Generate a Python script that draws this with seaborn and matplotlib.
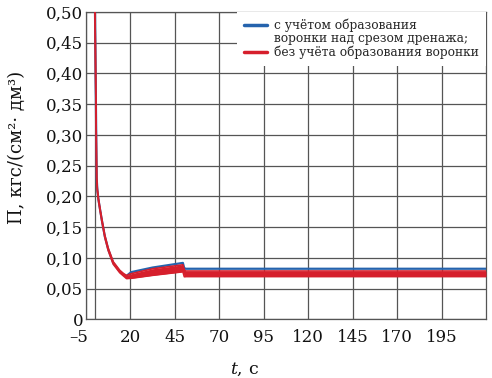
import matplotlib
matplotlib.use("Agg")
import matplotlib.pyplot as plt
from matplotlib.lines import Line2D
import matplotlib.transforms as mtransforms
import seaborn as sns
import numpy as np

# ---- data ----
t_s = [0.0, 0.4, 1.0, 1.4, 2.0, 3.0, 4.0, 5.6, 7.5, 10.3, 14.0, 16.0, 17.8,
       20.4, 32.5, 48.4, 49.5, 50.3, 51.0, 52.0, 220.0]
blue_vals = [0.52, 0.40, 0.23, 0.21, 0.195, 0.177, 0.160, 0.135, 0.114, 0.092,
             0.078, 0.073, 0.071, 0.077, 0.0845, 0.0915, 0.0920, 0.0830,
             0.0825, 0.0825, 0.0825]
red_hi = [0.52, 0.40, 0.23, 0.212, 0.197, 0.179, 0.162, 0.137, 0.116, 0.094,
          0.080, 0.075, 0.0715, 0.0745, 0.0825, 0.0885, 0.0890, 0.0810,
          0.0788, 0.0788, 0.0788]
red_lo = [0.52, 0.40, 0.228, 0.208, 0.193, 0.175, 0.158, 0.133, 0.112, 0.090,
          0.076, 0.071, 0.0665, 0.0670, 0.0718, 0.0772, 0.0778, 0.0695,
          0.0698, 0.0698, 0.0698]

x_ticks = [-5, 20, 45, 70, 95, 120, 145, 170, 195]
x_labels = ["–5", "20", "45", "70", "95", "120", "145", "170", "195"]
y_ticks = [0, 0.05, 0.10, 0.15, 0.20, 0.25, 0.30, 0.35, 0.40, 0.45, 0.50]
y_labels = ["0", "0,05", "0,10", "0,15", "0,20", "0,25", "0,30", "0,35",
            "0,40", "0,45", "0,50"]

legend_labels = ["с учётом образования", "воронки над срезом дренажа;",
                 "без учёта образования воронки"]

BLUE = "#2563ad"
RED = "#d61f2c"
GRID = "#555555"

sns.set_theme(style="white")
plt.rcParams["font.family"] = ["DejaVu Serif"]
plt.rcParams["mathtext.fontset"] = "dejavuserif"

fig = plt.figure(figsize=(4.92, 3.78), dpi=100)
ax = fig.add_axes([0.1748, 0.1548, 0.8130, 0.8135])

ax.set_xlim(-5, 220)
ax.set_ylim(0, 0.5)

sns.lineplot(x=t_s, y=blue_vals, ax=ax, color=BLUE, lw=1.6, estimator=None,
             zorder=3)
sns.lineplot(x=t_s, y=red_hi, ax=ax, color=RED, lw=1.2, estimator=None,
             zorder=4)
sns.lineplot(x=t_s, y=red_lo, ax=ax, color=RED, lw=1.2, estimator=None,
             zorder=4)
ax.fill_between(t_s, red_lo, red_hi, color=RED, lw=0, zorder=4)

ax.set_xticks(x_ticks)
ax.set_xticklabels(x_labels)
ax.set_yticks(y_ticks)
ax.set_yticklabels(y_labels)
ax.tick_params(axis="both", length=0, labelsize=12, colors="#111111")
ax.tick_params(axis="x", pad=6.5)
ax.tick_params(axis="y", pad=2)

# the "–5" label hangs to the left in the reference
first = ax.get_xticklabels()[0]
first.set_transform(first.get_transform() +
                    mtransforms.ScaledTranslation(-7 / 100, 0, fig.dpi_scale_trans))

ax.grid(True, color=GRID, lw=0.9)
ax.axvline(0, color=GRID, lw=0.9, zorder=0.5)
ax.set_axisbelow(True)
for s in ax.spines.values():
    s.set_color(GRID)
    s.set_linewidth(0.9)

ax.set_ylabel("П, кгс/(см²· дм³)", fontsize=13, color="#111111")
ax.yaxis.set_label_coords(-0.15, 0.558)
ax.set_xlabel("$t$, с", fontsize=12.5, color="#111111")
ax.xaxis.set_label_coords(0.397, -0.133)

handles = [Line2D([], [], color=BLUE, lw=2.5),
           Line2D([], [], color="none", lw=2.5),
           Line2D([], [], color=RED, lw=2.5)]
leg = ax.legend(handles, legend_labels, loc="upper right",
                bbox_to_anchor=(1.0, 1.0), borderaxespad=0.0,
                fontsize=8.8, frameon=True, framealpha=1.0, facecolor="white",
                edgecolor="none", fancybox=False, handlelength=1.9,
                handletextpad=0.6, labelspacing=0.02, borderpad=0.55)
leg.set_zorder(10)

fig.savefig("out.png", dpi=100)
